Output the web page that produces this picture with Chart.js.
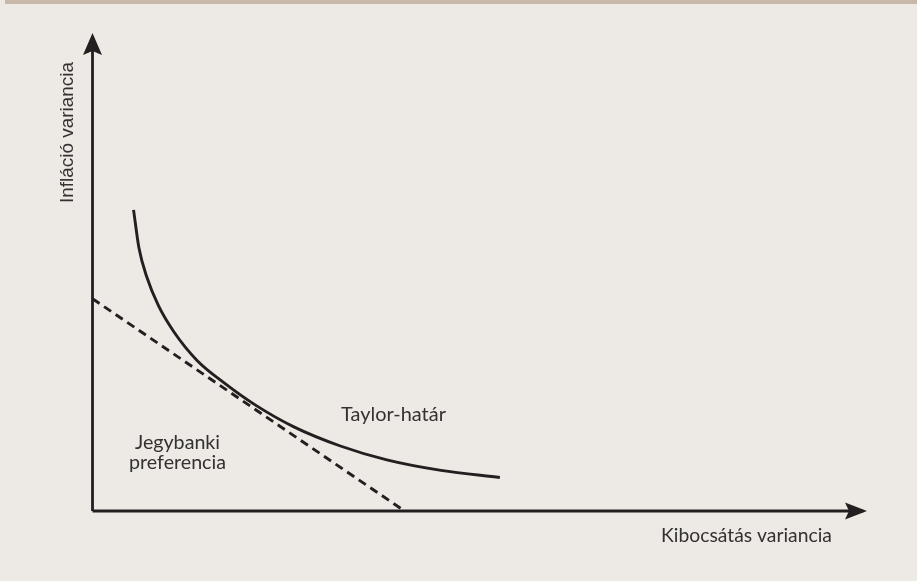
<!DOCTYPE html>
<html>
<head>
<meta charset="utf-8">
<script src="https://cdn.jsdelivr.net/npm/chart.js@4"></script>
<style>
  html, body { margin: 0; padding: 0; background: #ede9e5; }
  canvas { display: block; }
</style>
</head>
<body>
<canvas id="c" width="917" height="581"></canvas>
<script>
// Taylor frontier (solid curve)
const taylorX = [0.53, 0.60, 0.70, 0.85, 1.05, 1.35, 1.70, 2.10, 2.60, 3.20, 3.80, 4.50, 5.26];
const taylorY = [6.30, 5.50, 4.90, 4.30, 3.75, 3.15, 2.68, 2.22, 1.76, 1.36, 1.07, 0.85, 0.70];
// Central bank preference (dashed straight line)
const prefX = [0, 4.03];
const prefY = [4.44, 0];
// Axis extents
const axisXMax = 10;
const axisYMax = 10;
// Texts
const xTitle = 'Kibocsátás variancia';
const yTitle = 'Infláció variancia';
const curveLabel = 'Taylor-határ';
const prefLabel = ['Jegybanki', 'preferencia'];

const INK = '#231f20';
const TEXT = '#333131';

function pts(xs, ys) { return xs.map((x, i) => ({ x: x, y: ys[i] })); }

function fitFont(ctx, text, family, target, base) {
  ctx.font = base + 'px ' + family;
  const w = ctx.measureText(text).width;
  return base * target / w;
}

const decor = {
  id: 'decor',
  beforeDraw(chart) {
    const ctx = chart.ctx;
    ctx.save();
    ctx.fillStyle = '#ede9e5';
    ctx.fillRect(0, 0, chart.width, chart.height);
    ctx.fillStyle = '#c8b8a8';
    ctx.fillRect(5, 0, chart.width - 5, 4);
    ctx.restore();
  },
  afterDatasetsDraw(chart) {
    const ctx = chart.ctx;
    const xs = chart.scales.x, ys = chart.scales.y;
    const ox = xs.getPixelForValue(0), oy = ys.getPixelForValue(0);
    const tx = xs.getPixelForValue(axisXMax);
    const ty = ys.getPixelForValue(axisYMax);
    ctx.save();
    ctx.fillStyle = INK;
    // right arrow
    ctx.beginPath();
    ctx.moveTo(tx, oy);
    ctx.lineTo(tx - 22, oy - 8.5);
    ctx.lineTo(tx - 18, oy);
    ctx.lineTo(tx - 22, oy + 8.5);
    ctx.closePath();
    ctx.fill();
    // up arrow
    ctx.beginPath();
    ctx.moveTo(ox, ty);
    ctx.lineTo(ox - 9.5, ty + 22);
    ctx.lineTo(ox, ty + 18);
    ctx.lineTo(ox + 9.5, ty + 22);
    ctx.closePath();
    ctx.fill();

    // texts
    ctx.fillStyle = TEXT;
    ctx.textBaseline = 'alphabetic';
    ctx.textAlign = 'left';
    const lato = 'Lato, "Open Sans", sans-serif';
    let s = fitFont(ctx, xTitle, lato, 171, 20);
    ctx.font = s + 'px ' + lato;
    ctx.fillText(xTitle, 661, 542);

    s = fitFont(ctx, curveLabel, lato, 105, 20);
    ctx.font = s + 'px ' + lato;
    ctx.fillText(curveLabel, 341, 421);

    s = fitFont(ctx, prefLabel[1], lato, 97, 20);
    ctx.font = s + 'px ' + lato;
    ctx.textAlign = 'center';
    ctx.fillText(prefLabel[0], 177.5, 449);
    ctx.fillText(prefLabel[1], 177.5, 469);

    const lib = '"Liberation Sans", Arial, sans-serif';
    s = fitFont(ctx, yTitle, lib, 141, 19);
    ctx.font = s + 'px ' + lib;
    ctx.translate(73, 132.5);
    ctx.rotate(-Math.PI / 2);
    ctx.textAlign = 'center';
    ctx.fillText(yTitle, 0, 0);
    ctx.restore();
  }
};

new Chart(document.getElementById('c'), {
  type: 'scatter',
  data: {
    datasets: [
      {
        label: 'x axis',
        data: pts([0, axisXMax - 0.05], [0, 0]),
        showLine: true, borderColor: INK, borderWidth: 2.8,
        pointRadius: 0, clip: false, borderCapStyle: 'butt'
      },
      {
        label: 'y axis',
        data: pts([0, 0], [0, axisYMax - 0.1]),
        showLine: true, borderColor: INK, borderWidth: 2.8,
        pointRadius: 0, clip: false, borderCapStyle: 'butt'
      },
      {
        label: 'Taylor-határ',
        data: pts(taylorX, taylorY),
        showLine: true, borderColor: INK, borderWidth: 2.9,
        pointRadius: 0, clip: false, cubicInterpolationMode: 'monotone'
      },
      {
        label: 'Jegybanki preferencia',
        data: pts(prefX, prefY),
        showLine: true, borderColor: INK, borderWidth: 2.9,
        borderDash: [8.5, 5.5], pointRadius: 0, clip: false
      }
    ]
  },
  options: {
    responsive: false,
    animation: false,
    devicePixelRatio: 1,
    layout: { padding: { left: 92.5, top: 33, right: 50, bottom: 70 } },
    plugins: { legend: { display: false }, tooltip: { enabled: false } },
    scales: {
      x: { type: 'linear', min: 0, max: axisXMax, display: false },
      y: { type: 'linear', min: 0, max: axisYMax, display: false }
    }
  },
  plugins: [decor]
});
</script>
</body>
</html>
